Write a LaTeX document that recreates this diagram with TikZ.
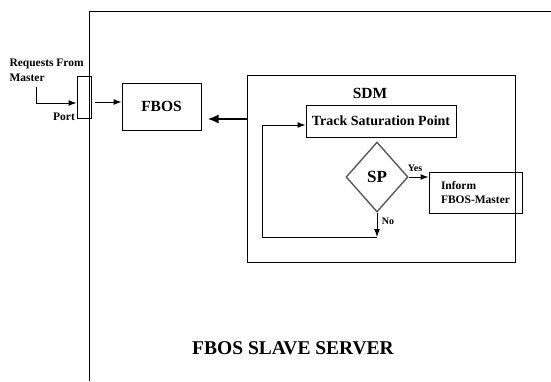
\documentclass[tikz,border=0pt]{standalone}
\usepackage{fontspec}
\setmainfont{Liberation Serif}
\usetikzlibrary{shapes.geometric,arrows.meta}
\newcommand{\fs}[2]{\bfseries\fontsize{#1}{#2}\selectfont}
\begin{document}
\begin{tikzpicture}[x=1pt,y=-1pt,line width=1pt,
        box/.style={draw,inner sep=0pt},
        arr/.style={-{Latex[length=8pt,width=6pt]}},
        lbl/.style={font=\fs{11.5}{15},inner sep=1pt}]
    \useasboundingbox (0,0) rectangle (551,381);
    % slave server frame
    \draw (89,381) -- (89,11) -- (551,11);
    \node[font=\fs{19.5}{20}] (title) at (293,348) {FBOS SLAVE SERVER};
    % port and fbos
    \node[box,minimum width=14pt,minimum height=42pt] (port) at (84,97) {};
    \node[lbl,anchor=north west,align=left] (req) at (8,57) {Requests From\\Master};
    \node[lbl] (portlbl) at (64,117) {Port};
    \coordinate (reqin) at (36,87);
    \draw[arr] (reqin) |- ([yshift=-6pt]port.west);
    \node[box,minimum width=79pt,minimum height=47pt,font=\fs{15.5}{16}] (fbos) at (161.5,106.5) {FBOS};
    \coordinate (pout) at (95,102);
    \draw[arr] (pout) -- (pout -| fbos.west);
    % sdm
    \node[box,minimum width=268pt,minimum height=187pt] (sdm) at (381,168.5) {};
    \node[font=\fs{15.5}{16}] (sdmlbl) at (370,93) {SDM};
    \coordinate (back) at (247,119);
    \draw[-{Latex[length=11pt,width=9pt]},line width=2pt] (back) -- ([xshift=6pt]back -| fbos.east);
    \node[box,minimum width=150pt,minimum height=32pt,font=\fs{14}{15}] (track) at (381,121) {Track Saturation Point};
    \node[diamond,draw=gray!70!black,line width=1.4pt,inner sep=0pt,minimum width=62pt,minimum height=70pt,font=\fs{17}{18}] (sp) at (377,177) {SP};
    \node[box,align=left,text width=69pt,inner xsep=12pt,minimum height=41pt,font=\fs{11.5}{14}] (inform) at (475.5,192.5) {Inform\\FBOS-Master};
    \draw[arr] (sp.east) -- (inform.west |- sp.east);
    \node[font=\fs{10}{11}] (yes) at (415,168) {Yes};
    \coordinate (loop) at (377,237);
    \draw[arr] (sp.south) -- (loop);
    \node[font=\fs{10}{11}] (no) at (388,221) {No};
    \draw (loop) -| (262,125) coordinate (up);
    \draw[arr] (up) -- (up -| track.west);
\end{tikzpicture}
\end{document}
